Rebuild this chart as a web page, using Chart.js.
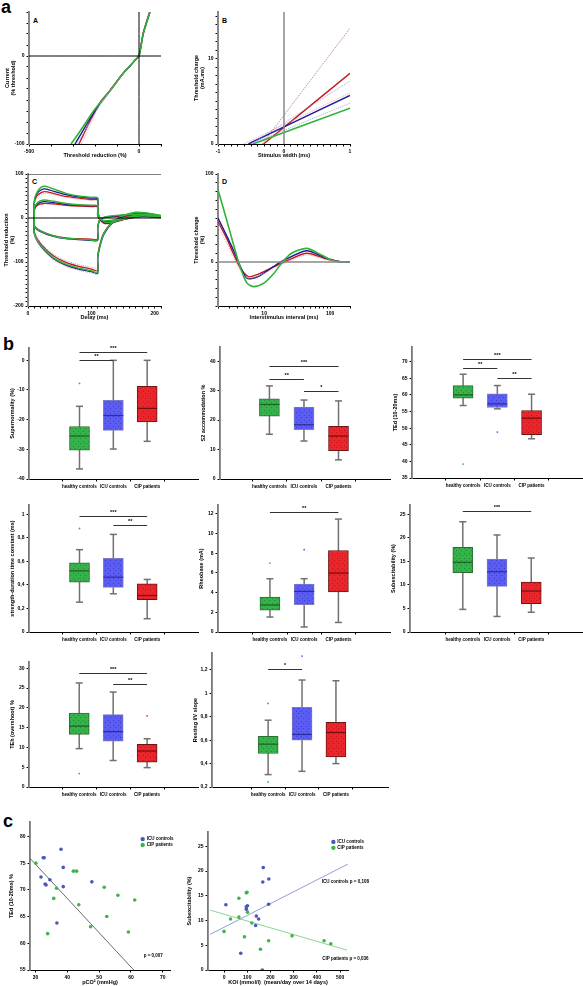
<!DOCTYPE html>
<html>
<head>
<meta charset="utf-8">
<script src="https://cdn.jsdelivr.net/npm/chart.js@4.4.1/dist/chart.umd.min.js"></script>
<style>
  body { margin: 0; background: #fff; width: 583px; height: 986px; position: relative; overflow: hidden;
         font-family: 'Liberation Sans', Arial, sans-serif; }
  .box { position: absolute; }
  .sec { position: absolute; font-weight: bold; font-size: 18px; line-height: 18px; }
  .pl { position: absolute; font-weight: bold; font-size: 7px; line-height: 7px; }
</style>
</head>
<body>
<div class="sec" style="left:1px;top:-2px">a</div>
<div class="sec" style="left:3px;top:335px">b</div>
<div class="sec" style="left:3px;top:812px">c</div>
<div class="pl" style="left:33px;top:17px">A</div>
<div class="pl" style="left:222px;top:17px">B</div>
<div class="pl" style="left:32px;top:178px">C</div>
<div class="pl" style="left:222px;top:178px">D</div>

<script>
// ---------- a: excitability curves (x, y pairs) ----------
// A: current-threshold relationship
const aGreen = [[-309,-100],[-275,-88],[-240,-75],[-205,-62],[-170,-51],[-130,-39],[-100,-29],[-70,-19],[-40,-11],[-15,-4],[0,0],[20,26],[50,50]];
const aBlue  = [[-291,-100],[-262,-88],[-232,-75],[-200,-62],[-168,-51],[-130,-39],[-100,-29],[-70,-19],[-40,-11],[-15,-4],[0,0],[20,26],[50,50]];
const aRed   = [[-273,-100],[-250,-88],[-225,-75],[-198,-62],[-172,-51],[-132,-39],[-101,-29],[-70,-19],[-40,-11],[-15,-4],[0,0],[19,26],[48,50]];
const aPinkDot = [[-262,-100],[-240,-88],[-216,-75],[-192,-62],[-166,-51],[-128,-39],[-98,-29],[-68,-19]];
const aBlueDot = [[-283,-100],[-252,-88],[-222,-75],[-193,-62],[-163,-51],[-127,-39]];

// B: charge-duration
const bRed = [[-0.31,0],[1,8.3]];
const bRedDot = [[-0.33,0],[1,13.6]];
const bBlue = [[-0.54,0],[1,5.7]];
const bBlueDotHi = [[-0.5,0],[1,7.4]];
const bPinkDot = [[-0.61,0],[1,6.0]];
const bBlueDotLo = [[-0.5,0],[1,4.8]];
const bGreen = [[-0.47,0],[1,4.2]];

// C: threshold electrotonus (depolarising 40/20 %, hyperpolarising 20/40 %)
const cGreenD40 = [[10,0],[10,40],[14,58],[20,69],[27,72],[40,66],[60,56],[80,50],[100,47],[110,46],[110,20],[113,2],[120,-8],[130,-10],[150,-3],[175,8],[200,7],[210,5]];
const cBlueD40  = [[10,0],[10,38],[14,55],[20,63],[27,66],[40,61],[60,53],[80,48],[100,45],[110,44],[110,18],[113,0],[120,-10],[130,-11],[150,-3],[175,7],[200,6],[210,4]];
const cRedD40   = [[10,0],[10,35],[14,50],[20,57],[27,60],[40,56],[60,49],[80,45],[100,42],[110,41],[110,15],[113,-2],[120,-12],[130,-12],[150,-4],[175,4],[200,4],[210,2]];
const cGreenD20 = [[10,0],[10,22],[15,35],[25,41],[40,38],[60,33],[80,30],[100,29],[110,28],[110,8],[115,-3],[125,-6],[150,-2],[180,5],[210,3]];
const cBlueD20  = [[10,0],[10,20],[15,32],[25,37],[40,35],[60,31],[80,29],[100,28],[110,27],[110,7],[115,-4],[125,-7],[150,-2],[180,4],[210,2]];
const cRedD20   = [[10,0],[10,18],[15,29],[25,33],[40,32],[60,29],[80,27],[100,26],[110,25],[110,5],[115,-5],[125,-8],[150,-3],[180,3],[210,1]];
const cGreenH20 = [[10,0],[10,-18],[20,-30],[40,-41],[60,-46],[80,-48],[100,-50],[110,-50],[110,-25],[113,-5],[120,2],[140,6],[170,8],[210,4]];
const cBlueH20  = [[10,0],[10,-19],[20,-31],[40,-42],[60,-47],[80,-49],[100,-51],[110,-51],[110,-26],[113,-6],[120,1],[140,5],[170,7],[210,3]];
const cRedH20   = [[10,0],[10,-17],[20,-29],[40,-40],[60,-45],[80,-47],[100,-48],[110,-48],[110,-24],[113,-4],[120,1],[140,4],[170,5],[210,2]];
const cGreenH40 = [[10,0],[10,-35],[20,-62],[40,-90],[60,-105],[80,-114],[100,-120],[110,-124],[110,-90],[115,-55],[120,-35],[130,-15],[145,2],[170,13],[190,11],[210,6]];
const cBlueH40  = [[10,0],[10,-36],[20,-64],[40,-92],[60,-107],[80,-116],[100,-122],[110,-126],[110,-92],[115,-57],[120,-37],[130,-16],[145,1],[170,11],[190,10],[210,5]];
const cRedH40   = [[10,0],[10,-33],[20,-59],[40,-86],[60,-101],[80,-110],[100,-116],[110,-120],[110,-86],[115,-52],[120,-33],[130,-14],[145,0],[170,8],[190,7],[210,3]];
const cPinkD40  = [[10,32],[14,46],[20,53],[27,56],[40,53],[60,47],[80,43],[100,40],[110,39]];
const cPinkH40  = [[10,-38],[20,-66],[40,-95],[60,-110],[80,-119],[100,-125],[110,-129]];
const cLBlueH40 = [[10,-30],[20,-56],[40,-82],[60,-97],[80,-106],[100,-112],[110,-115]];

// D: recovery cycle
const dGreen = [[2,82],[2.7,48],[3.4,21],[4.3,-5],[5.5,-24],[7,-28],[9.9,-24],[14,-13],[19,0],[26,10],[44,15.5],[74,8],[105,2],[150,0],[200,0]];
const dBlue  = [[2,50],[2.7,30],[3.4,14],[4.3,-4],[5.5,-18.5],[7.9,-17],[14,-5],[20,2],[44,12.8],[83,5],[150,0],[200,0]];
const dRed   = [[2,46],[2.7,27],[3.4,10],[4.3,-6],[5.8,-16.7],[8,-14],[11.2,-9],[20,0],[44,10],[83,4],[150,0],[200,0]];
const dPink  = [[2,40],[2.7,22],[3.4,6],[4.3,-9],[5.8,-19],[8,-16],[11.2,-11],[20,-2],[44,8],[83,3],[150,0]];

// ---------- b: box plots (healthy controls, ICU controls, CIP patients) ----------
const groups = ['healthy controls', 'ICU controls', 'CIP patients'];

const supLo = [-36.6,-29.9,-27.3], supQ1 = [-30.3,-23.6,-20.8], supMed = [-25.5,-18.6,-16.2], supQ3 = [-22.3,-13.5,-8.8], supHi = [-15.5,0,0];
const supOut = [[0,-7.8]];
const supSig = [[0,1,0,'**'],[0,2,2.9,'***']];

const s2Lo = [15.2,12.9,6.5], s2Q1 = [21.3,16.7,9.6], s2Med = [25.3,18.4,14.6], s2Q3 = [27.2,24.4,17.9], s2Hi = [31.6,26.8,26.5];
const s2Sig = [[0,2,38.2,'***'],[0,1,34.1,'**'],[1,2,30,'*']];

const tedLo = [56.8,55.8,46.8], tedQ1 = [59,56.2,48], tedMed = [60,57.3,53], tedQ3 = [62.8,60.3,55.3], tedHi = [66.2,62.8,60.2];
const tedOut = [[0,39.2],[1,48.8]];
const tedSig = [[0,2,70.8,'***'],[0,1,68,'**'],[1,2,65.2,'**']];

const sdtcLo = [0.254,0.325,0.113], sdtcQ1 = [0.424,0.38,0.274], sdtcMed = [0.52,0.466,0.31], sdtcQ3 = [0.588,0.627,0.41], sdtcHi = [0.70,0.83,0.447];
const sdtcOut = [[0,0.88]];
const sdtcSig = [[0,2,0.989,'***'],[1,2,0.91,'**']];

const rheoLo = [1.52,0.51,0.97], rheoQ1 = [2.23,2.77,4.06], rheoMed = [2.74,4.12,5.99], rheoQ3 = [3.55,4.87,8.28], rheoHi = [5.41,5.41,11.47];
const rheoOut = [[0,7.0],[1,8.36]];
const rheoSig = [[0,2,12.14,'**']];

const subLo = [4.8,3.3,4.2], subQ1 = [12.6,9.7,6.0], subMed = [14.8,12.8,8.7], subQ3 = [18.0,15.5,10.6], subHi = [23.4,20.6,15.7];
const subSig = [[0,2,25.7,'***']];

const tehLo = [9.7,6.7,4.9], tehQ1 = [13.3,11.6,6.3], tehMed = [15.4,14.0,9.1], tehQ3 = [18.7,18.3,10.8], tehHi = [26.3,24,12.2];
const tehOut = [[0,3.4],[2,18.0]];
const tehSig = [[0,2,28.9,'***'],[1,2,26.1,'**']];

const ivLo = [0.306,0.334,0.4], ivQ1 = [0.486,0.6,0.457], ivMed = [0.566,0.649,0.666], ivQ3 = [0.634,0.88,0.752], ivHi = [0.771,1.114,1.108];
const ivOut = [[0,0.243],[0,0.914],[1,1.319]];
const ivSig = [[0,1,1.21,'*']];

// ---------- c: correlations ----------
const pco2Icu = [38.0,32.4,32.7,38.7,31.7,34.5,33.0,33.3,38.7,47.7,36.7];
const tedIcu  = [77.6,76.0,76.0,74.2,72.4,71.9,71.1,70.9,70.6,71.5,63.8];
const pco2Cip = [30.1,41.9,42.9,36.6,51.6,35.7,43.6,55.9,61.2,52.4,47.3,33.8,59.2];
const tedCip  = [75.0,73.5,73.5,70.3,70.5,68.4,67.2,69.0,68.1,65.0,63.1,61.8,62.1];
const pco2Fit = [[28.24,75.9],[60.9,55]];

const koiIcu = [169,193,167,8,96,101,96,192,139,149,136,72,165];
const subIcu = [20.7,18.4,17.8,13.2,12.8,13.0,12.3,13.3,10.9,10.3,9.0,3.4,0];
const koiCip = [99,64,96,28,64,101,120,0,88,192,157,293,431,460];
const subCip = [15.7,14.5,15.6,10.3,10.7,11.7,9.5,7.8,6.7,5.9,4.2,6.9,5.9,5.3];
const koiFitIcu = [[-60,7.2],[533,21.4]];
const koiFitCip = [[-60,12.1],[530,4.0]];

// ---------- styling ----------
const GREEN = '#2fb336', BLUE = '#1c1c9a', RED = '#c41a1a', PINK = '#e58a8a', LBLUE = '#8c8ce0';
const BOX = [
  { fill: '#35b24a', dot: '#1f8a33', edge: '#2c6e35', med: '#1d5e28' },
  { fill: '#5b5cf2', dot: '#3e3fd0', edge: '#7b7bc8', med: '#2d2d9e' },
  { fill: '#e8262c', dot: '#c01418', edge: '#6e1515', med: '#7a0d0d' }
];

Chart.defaults.font.family = "'Liberation Sans', Arial, sans-serif";
Chart.defaults.font.size = 5;
Chart.defaults.font.weight = 'bold';
Chart.defaults.color = '#000';
Chart.defaults.animation = false;
Chart.defaults.plugins.legend.display = false;
Chart.defaults.plugins.tooltip.enabled = false;

function steps(a, b, s) {
  const out = [];
  for (let v = a; v <= b + s / 1000; v += s) out.push(+v.toFixed(6));
  return out;
}
const pts = arr => arr.map(p => ({ x: p[0], y: p[1] }));
const comma = v => String(v).replace('.', ',');

// one axis, ticks given explicitly
function axis(min, max, tickVals, labelFn, o = {}) {
  return {
    type: o.type || 'linear', min, max,
    afterBuildTicks: s => { s.ticks = tickVals.map(v => ({ value: v })); },
    ticks: { callback: labelFn, padding: o.pad || 2, maxRotation: 0, autoSkip: false,
             font: { size: o.fs || 5, weight: 'bold' } },
    grid: { drawOnChartArea: false, drawTicks: true, tickLength: 2.5, color: '#000', lineWidth: 1 },
    border: { display: true, color: o.color || '#000', width: o.width || 1 },
    title: o.title ? { display: true, text: o.title, font: { size: 5.5, weight: 'bold' }, padding: o.tpad || 1 }
                   : { display: false }
  };
}

// place a chart so its plot area sits at L,T,R,B on the page
function makeChart(L, T, R, B, yw, xh, config, pr = 14) {
  const pt = 8;
  const div = document.createElement('div');
  div.className = 'box';
  div.style.left = (L - yw) + 'px';
  div.style.top = (T - pt) + 'px';
  div.style.width = (R - L + yw + pr) + 'px';
  div.style.height = (B - T + pt + xh) + 'px';
  const canvas = document.createElement('canvas');
  div.appendChild(canvas);
  document.body.appendChild(div);
  config.options.responsive = true;
  config.options.maintainAspectRatio = false;
  config.options.layout = { padding: { top: pt, right: pr, left: 0, bottom: 0 } };
  config.options.scales.x.afterFit = s => { s.height = xh; };
  config.options.scales.y.afterFit = s => { s.width = yw; };
  return new Chart(canvas, config);
}

function curve(data, color, width, dash) {
  return { data: pts(data), borderColor: color, borderWidth: width, borderDash: dash || [],
           showLine: true, pointRadius: 0, tension: 0.25, fill: false };
}

// ---------- panel a ----------
makeChart(29, 12, 161, 144, 26, 16, {
  type: 'scatter',
  data: { datasets: [
    curve([[-500,0],[100,0]], '#000', 1), curve([[0,-100],[0,50]], '#000', 1),
    curve(aBlueDot, LBLUE, 0.8, [1,1]), curve(aPinkDot, PINK, 0.8, [1,1]),
    curve(aGreen, GREEN, 1.6), curve(aBlue, BLUE, 1.4), curve(aRed, RED, 1.4)
  ] },
  options: { scales: {
    x: axis(-500, 100, steps(-500, 100, 100), v => (v === -500 || v === 0) ? String(v) : '', { title: 'Threshold reduction (%)' }),
    y: axis(-100, 50, steps(-100, 50, 12.5), v => (v === 0 || v === -100) ? String(v) : '', { title: ['Current', '(% threshold)'], color: '#888', width: 2 })
  } }
});

makeChart(218, 12, 350, 144, 26, 16, {
  type: 'scatter',
  data: { datasets: [
    curve([[0,0],[0,15.5]], '#888', 1.5),
    curve(bRedDot, RED, 0.8, [1,1.5]), curve(bBlueDotHi, LBLUE, 0.8, [1,1]), curve(bPinkDot, PINK, 0.8, [1,1]),
    curve(bBlueDotLo, LBLUE, 0.8, [1,1]),
    curve(bGreen, GREEN, 1.6), curve(bBlue, BLUE, 1.4), curve(bRed, RED, 1.4)
  ] },
  options: { scales: {
    x: axis(-1, 1, steps(-1, 1, 0.1), v => (v === -1 || v === 0 || v === 1) ? String(v) : '', { title: 'Stimulus width (ms)' }),
    y: axis(0, 15.5, steps(0, 15, 1), v => (v === 0 || v === 10) ? String(v) : '', { title: ['Threshold charge', '(mA.ms)'], color: '#888', width: 2 })
  } }
});

makeChart(28, 174, 161, 306, 26, 16, {
  type: 'scatter',
  data: { datasets: [
    curve([[0,0],[210,0]], '#000', 1), curve([[0,100],[210,100]], '#000', 1),
    curve(cPinkD40, PINK, 0.8, [1,1]), curve(cPinkH40, PINK, 0.8, [1,1]), curve(cLBlueH40, LBLUE, 0.8, [1,1]),
    curve(cGreenD40, GREEN, 1.4), curve(cGreenD20, GREEN, 1.4), curve(cGreenH20, GREEN, 1.4), curve(cGreenH40, GREEN, 1.4),
    curve(cBlueD40, BLUE, 1.3), curve(cBlueD20, BLUE, 1.3), curve(cBlueH20, BLUE, 1.3), curve(cBlueH40, BLUE, 1.3),
    curve(cRedD40, RED, 1.3), curve(cRedD20, RED, 1.3), curve(cRedH20, RED, 1.3), curve(cRedH40, RED, 1.3)
  ] },
  options: { scales: {
    x: axis(0, 210, steps(0, 210, 10), v => (v % 100 === 0) ? String(v) : '', { title: 'Delay (ms)' }),
    y: axis(-200, 100, steps(-200, 100, 10), v => (v % 100 === 0) ? String(v) : '', { title: ['Threshold reduction', '(%)'], color: '#888', width: 2 })
  } }
});

makeChart(218, 174, 350, 306, 26, 16, {
  type: 'scatter',
  data: { datasets: [
    curve([[2,0],[200,0]], '#888', 1.5),
    curve(dPink, PINK, 0.8, [1,1]),
    curve(dGreen, GREEN, 1.6), curve(dBlue, BLUE, 1.4), curve(dRed, RED, 1.4)
  ] },
  options: { scales: {
    x: axis(2, 200, [2,3,4,5,6,7,8,9,10,20,30,40,50,60,70,80,90,100,200], v => (v === 10 || v === 100) ? String(v) : '',
            { type: 'logarithmic', title: 'Interstimulus interval (ms)' }),
    y: axis(-50, 100, steps(-50, 100, 10), v => (v === 0 || v === 100) ? String(v) : '', { title: ['Threshold change', '(%)'], color: '#888', width: 2 })
  } }
});

// ---------- panel b: box plots ----------
function speckle(c) {
  const p = document.createElement('canvas');
  p.width = 5; p.height = 5;
  const g = p.getContext('2d');
  g.fillStyle = c.fill; g.fillRect(0, 0, 5, 5);
  g.fillStyle = c.dot; g.fillRect(1, 1, 1, 1); g.fillRect(3, 3, 1, 1);
  return g.createPattern(p, 'repeat');
}

const boxParts = {
  id: 'boxParts',
  beforeDatasetsDraw(chart) {
    const b = chart.data.datasets[0].box;
    if (!b) return;
    const { ctx, scales: { x, y } } = chart;
    ctx.save();
    ctx.strokeStyle = '#707070';
    ctx.lineWidth = 1.5;
    b.lo.forEach((lo, i) => {
      const px = x.getPixelForValue(i);
      ctx.beginPath();
      ctx.moveTo(px, y.getPixelForValue(lo));
      ctx.lineTo(px, y.getPixelForValue(b.hi[i]));
      ctx.stroke();
      [lo, b.hi[i]].forEach(v => {
        const py = y.getPixelForValue(v);
        ctx.beginPath(); ctx.moveTo(px - 3.5, py); ctx.lineTo(px + 3.5, py); ctx.stroke();
      });
    });
    ctx.restore();
  },
  afterDatasetsDraw(chart) {
    const b = chart.data.datasets[0].box;
    if (!b) return;
    const { ctx, scales: { x, y } } = chart;
    ctx.save();
    b.med.forEach((m, i) => {
      const px = x.getPixelForValue(i), py = y.getPixelForValue(m);
      ctx.strokeStyle = BOX[i].med; ctx.lineWidth = 1.2;
      ctx.beginPath(); ctx.moveTo(px - 10, py); ctx.lineTo(px + 10, py); ctx.stroke();
    });
    (b.out || []).forEach(([i, v]) => {
      ctx.fillStyle = BOX[i].fill;
      ctx.beginPath(); ctx.arc(x.getPixelForValue(i), y.getPixelForValue(v), 0.9, 0, Math.PI * 2); ctx.fill();
    });
    ctx.font = "bold 5.5px 'Liberation Sans', Arial, sans-serif";
    ctx.textAlign = 'center'; ctx.textBaseline = 'bottom';
    (b.sig || []).forEach(([i, j, v, s]) => {
      const x1 = x.getPixelForValue(i), x2 = x.getPixelForValue(j), py = Math.round(y.getPixelForValue(v)) + 0.5;
      ctx.strokeStyle = '#333'; ctx.lineWidth = 1;
      ctx.beginPath(); ctx.moveTo(x1, py); ctx.lineTo(x2, py); ctx.stroke();
      ctx.fillStyle = '#000';
      ctx.fillText(s, (x1 + x2) / 2, py - 1);
    });
    ctx.restore();
  }
};

function boxChart(L, T, R, B, xMin, yMin, yMax, yTicks, fmt, title, lo, q1, med, q3, hi, out, sig) {
  return makeChart(L, T, R, B, 22, 14, {
    type: 'bar',
    data: { datasets: [{
      data: q1.map((v, i) => ({ x: i, y: [v, q3[i]] })),
      backgroundColor: BOX.map(speckle),
      borderColor: BOX.map(c => c.edge),
      borderWidth: 1, borderSkipped: false, barThickness: 20,
      box: { lo, med, hi, out, sig }
    }] },
    options: { scales: {
      x: axis(xMin, 2.67, [0, 1, 2], v => groups[v], { fs: 4.5, pad: 3 }),
      y: axis(yMin, yMax, yTicks, fmt, { title, color: '#777', width: 1.8, tpad: 2 })
    } },
    plugins: [boxParts]
  });
}

boxChart(29, 348, 198, 479, -0.66, -40, 4.15, steps(-40, 0, 10), String, 'Supernormality (%)',
  supLo, supQ1, supMed, supQ3, supHi, supOut, supSig);
boxChart(220, 347, 390, 479, -0.61, 0, 44.8, steps(0, 40, 10), String, 'S2 accommodation %',
  s2Lo, s2Q1, s2Med, s2Q3, s2Hi, [], s2Sig);
boxChart(412, 347, 583, 478, -0.66, 35, 74.4, steps(35, 70, 5), String, 'TEd (10-20ms)',
  tedLo, tedQ1, tedMed, tedQ3, tedHi, tedOut, tedSig);
boxChart(29, 505, 198, 632, -0.66, 0, 1.08, steps(0, 1, 0.2), comma, 'strength-duration time constant (ms)',
  sdtcLo, sdtcQ1, sdtcMed, sdtcQ3, sdtcHi, sdtcOut, sdtcSig);
boxChart(218, 505, 390, 632, -0.68, 0, 12.9, steps(0, 12, 2), String, 'Rheobase (mA)',
  rheoLo, rheoQ1, rheoMed, rheoQ3, rheoHi, rheoOut, rheoSig);
boxChart(410, 505, 583, 632, -0.7, 0, 26.96, steps(0, 25, 5), String, 'Subexcitability (%)',
  subLo, subQ1, subMed, subQ3, subHi, [], subSig);
boxChart(29, 662, 198, 787, -0.65, 0, 31.6, steps(0, 30, 5), String, 'TEh (overshoot) %',
  tehLo, tehQ1, tehMed, tehQ3, tehHi, tehOut, tehSig);
boxChart(212, 653, 388, 787, -0.79, 0.2, 1.345, steps(0.2, 1.2, 0.2), comma, 'Resting I/V slope',
  ivLo, ivQ1, ivMed, ivQ3, ivHi, ivOut, ivSig);

// ---------- panel c: scatter with fits ----------
const notes = {
  id: 'notes',
  afterDatasetsDraw(chart) {
    const n = chart.data.datasets[0].notes;
    if (!n) return;
    const { ctx, scales: { x, y } } = chart;
    ctx.save();
    ctx.font = "bold 4.5px 'Liberation Sans', Arial, sans-serif";
    ctx.textBaseline = 'middle'; ctx.textAlign = 'left';
    n.forEach(t => {
      const px = x.getPixelForValue(t.x), py = y.getPixelForValue(t.y);
      if (t.dot) {
        ctx.fillStyle = t.dot;
        ctx.beginPath(); ctx.arc(px, py, 2.2, 0, Math.PI * 2); ctx.fill();
        ctx.fillStyle = '#000'; ctx.fillText(t.text, px + 4, py);
      } else {
        ctx.fillStyle = '#000'; ctx.fillText(t.text, px, py);
      }
    });
    ctx.restore();
  }
};

const dotsOf = (xs, ys) => xs.map((v, i) => ({ x: v, y: ys[i] }));

makeChart(30, 822, 170, 970, 24, 18, {
  type: 'scatter',
  data: { datasets: [
    { data: dotsOf(pco2Icu, tedIcu), backgroundColor: '#4a58b8', pointRadius: 1.8, borderWidth: 0,
      notes: [ { x: 63.7, y: 79.5, text: 'ICU controls', dot: '#4a58b8' },
               { x: 63.7, y: 78.4, text: 'CIP patients', dot: '#3cb54a' },
               { x: 64, y: 57.6, text: 'p = 0,007' } ] },
    { data: dotsOf(pco2Cip, tedCip), backgroundColor: '#3cb54a', pointRadius: 1.8, borderWidth: 0 },
    { data: pts(pco2Fit), showLine: true, borderColor: '#444', borderWidth: 0.8, pointRadius: 0 }
  ] },
  options: { scales: {
    x: axis(28.24, 72.3, steps(30, 70, 10), String, { title: 'pCO² (mmHg)', tpad: 2 }),
    y: axis(55, 82.7, steps(55, 80, 5), String, { title: 'TEd (10-20ms) %', color: '#777', width: 1.8, tpad: 2 })
  } },
  plugins: [notes]
}, 30);

makeChart(208, 832, 348, 970, 24, 18, {
  type: 'scatter',
  data: { datasets: [
    { data: dotsOf(koiIcu, subIcu), backgroundColor: '#4a58b8', pointRadius: 1.8, borderWidth: 0,
      notes: [ { x: 471, y: 25.9, text: 'ICU controls', dot: '#4a58b8' },
               { x: 471, y: 24.7, text: 'CIP patients', dot: '#3cb54a' },
               { x: 421, y: 17.8, text: 'ICU controls p = 0,108' },
               { x: 423, y: 2.2, text: 'CIP patients p = 0,036' } ] },
    { data: dotsOf(koiCip, subCip), backgroundColor: '#3cb54a', pointRadius: 1.8, borderWidth: 0 },
    { data: pts(koiFitIcu), showLine: true, borderColor: '#8a8fd8', borderWidth: 0.9, pointRadius: 0 },
    { data: pts(koiFitCip), showLine: true, borderColor: '#7fcf84', borderWidth: 0.9, pointRadius: 0 }
  ] },
  options: { scales: {
    x: axis(-69, 534, steps(0, 500, 100), String, { title: 'KOI (mmol/l)  (mean/day over 14 days)', tpad: 2 }),
    y: axis(0, 27.9, steps(0, 25, 5), String, { title: 'Subexcitability (%)', color: '#777', width: 1.8, tpad: 2 })
  } },
  plugins: [notes]
}, 40);
</script>
</body>
</html>
